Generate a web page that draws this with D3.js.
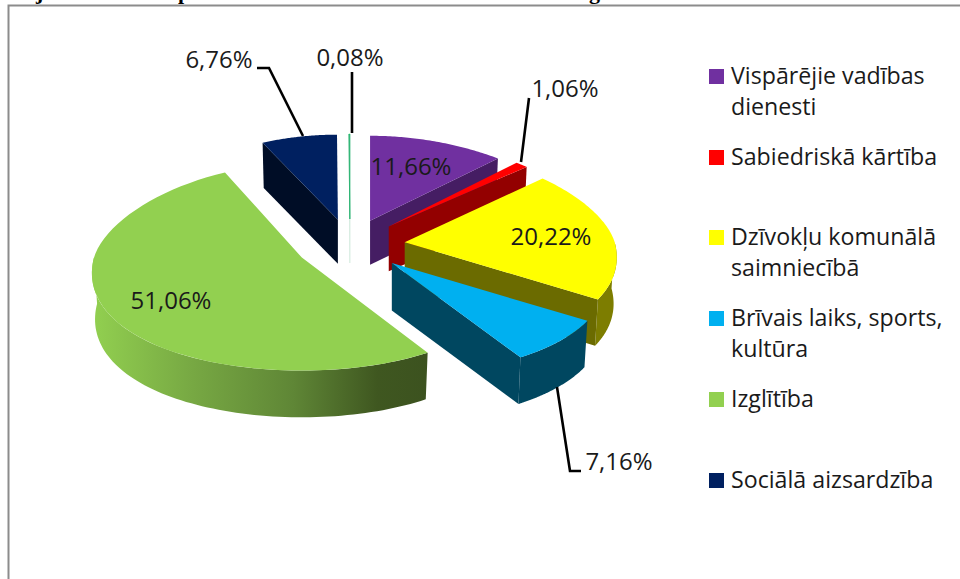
<!DOCTYPE html>
<html><head><meta charset="utf-8">
<script src="https://cdn.jsdelivr.net/npm/d3@7/dist/d3.min.js"></script>
<style>html,body{margin:0;padding:0;background:#fff;overflow:hidden}svg{display:block}
text{font-family:"Open Sans","Noto Sans",sans-serif;fill:#1a1a1a}</style></head><body>
<svg id="c" width="960" height="579"></svg>
<script>
const categories=["Vispārējie vadības dienesti","Sabiedriskā kārtība","Dzīvokļu komunālā saimniecībā","Brīvais laiks, sports, kultūra","Izglītība","Sociālā aizsardzība","Citi"];
const values=[11.66,1.06,20.22,7.16,51.06,6.76,0.08];
const valueLabels=["11,66%","1,06%","20,22%","7,16%","51,06%","6,76%","0,08%"];
const topColors=["#7030a0","#ff0000","#ffff00","#00b0f0","#92d050","#002060","#2fb574"];
const sideColors=["#451d63","#930000","#6b6b00","#004760","#4a6a28","#000d26","#cfe8da"];
const arcColors=["#451d63","#930000","#7d7d00","#004760","#4a6a28","#000d26","#cfe8da"];
const legendRows=[["Vispārējie vadības","dienesti"],["Sabiedriskā kārtība"],["Dzīvokļu komunālā","saimniecībā"],["Brīvais laiks, sports,","kultūra"],["Izglītība"],["Sociālā aizsardzība"]];
const legendY=[76,157,237,318,399,480];
const labelPos=[[411,167],[565,89],[551,237],[619,462],[171,301],[219,60],[350,58]];
const leaders=[null,[[521,162],[529,98]],null,[[557,387],[570,471],[581,471]],null,[[303,136],[269,68],[257,68]],[[352,133],[352,72]]];
const titleBits=[["j",36],["p",178],["g",589]];
// per-slice projection tweaks
const ryBackK=[85,87,93,92,94,85,85];
const ryFrontK=[100,100,111,112,113,100,100];
const explodeK=[1,1,1,1.06,1,1,1];
const rxK=[1,1,1,1.012,0.99,0.97,1];

const svg=d3.select("#c");
const defs=svg.append("defs");
const grad=defs.append("linearGradient").attr("id","gs").attr("gradientUnits","userSpaceOnUse").attr("x1",92).attr("x2",428).attr("y1",0).attr("y2",0);
[[0,"#92d050"],[.3,"#77a843"],[.6,"#5f8636"],[.85,"#3f5720"],[1,"#3c521f"]].forEach(s=>grad.append("stop").attr("offset",s[0]).attr("stop-color",s[1]));

titleBits.forEach(t=>svg.append("text").attr("x",t[1]).attr("y",-1).attr("font-size",22).attr("font-weight","bold").style("font-family","'Liberation Serif',serif").style("fill","#000").text(t[0]));
svg.append("rect").attr("x",8.5).attr("y",5.5).attr("width",1000).attr("height",700).attr("fill","#fff").attr("stroke","#8c8c8c").attr("stroke-width",2);

const pie=d3.pie().sort(null).value(d=>d);
const arcs=pie(values);
const cx=350,cy=245,ex=55,ey=26;
function project(i,th,r,dz){
  const a=arcs[i],mid=(a.startAngle+a.endAngle)/2;
  const ax=cx+ex*explodeK[i]*Math.sin(mid), ay=cy-ey*Math.cos(mid);
  const u=Math.sin(th),v=-Math.cos(th);
  const rx=(210+30*v)*rxK[i];
  const ry=v<0?ryBackK[i]:ryFrontK[i];
  const sc=dz>0?0.985:1;
  const d=dz*(1+0.1*(v+1)/2);
  return [ax+rx*r*u*sc, ay+ry*r*v*sc+d];
}
const depth=44;
const line=d3.line();
function arcPts(i,dz){const a=arcs[i],n=60;return d3.range(n+1).map(k=>project(i,a.startAngle+(a.endAngle-a.startAngle)*k/n,1,dz));}
const order=[5,6,0,1,4,2,3];
order.forEach(i=>{
  const a=arcs[i];
  const g=svg.append("g");
  const apexT=project(i,a.startAngle,0,0),apexB=project(i,a.startAngle,0,depth);
  const n=80;
  const lo=Math.max(a.startAngle,Math.PI/2),hi=Math.min(a.endAngle,Math.PI*1.5);
  if(hi>lo){
    const tt=d3.range(n+1).map(k=>lo+(hi-lo)*k/n);
    const pts=tt.map(t=>project(i,t,1,0)).concat(tt.slice().reverse().map(t=>project(i,t,1,depth)));
    g.append("path").attr("d",line(pts)+"Z").attr("fill",i===4?"url(#gs)":arcColors[i]);
  }
  if(Math.sin(a.endAngle)>0){
    const p=project(i,a.endAngle,1,0),q=project(i,a.endAngle,1,depth);
    g.append("path").attr("d",line([apexT,p,q,apexB])+"Z").attr("fill",sideColors[i]);
  }
  if(Math.sin(a.startAngle)<0){
    const p=project(i,a.startAngle,1,0),q=project(i,a.startAngle,1,depth);
    g.append("path").attr("d",line([apexT,p,q,apexB])+"Z").attr("fill",sideColors[i]);
  }
  g.append("path").attr("d",line([apexT].concat(arcPts(i,0)))+"Z").attr("fill",topColors[i]).attr("stroke",i===6?topColors[i]:"none").attr("stroke-width",i===6?1:0);
  if(i===6){g.append("path").attr("d",line([apexT,apexB])).attr("stroke",sideColors[i]).attr("stroke-width",1);}
});
leaders.forEach(l=>{if(l)svg.append("path").attr("d",line(l)).attr("fill","none").attr("stroke","#000").attr("stroke-width",2.6);});
valueLabels.forEach((t,i)=>svg.append("text").attr("x",labelPos[i][0]).attr("y",labelPos[i][1]).attr("text-anchor","middle").attr("dy","0.35em").attr("font-size",24).text(t));
legendRows.forEach((rows,i)=>{
  svg.append("rect").attr("x",709).attr("y",legendY[i]-7).attr("width",15).attr("height",15).attr("fill",topColors[i]);
  rows.forEach((t,j)=>svg.append("text").attr("x",731).attr("y",legendY[i]+8+j*31).attr("font-size",23.2).text(t));
});
</script></body></html>
